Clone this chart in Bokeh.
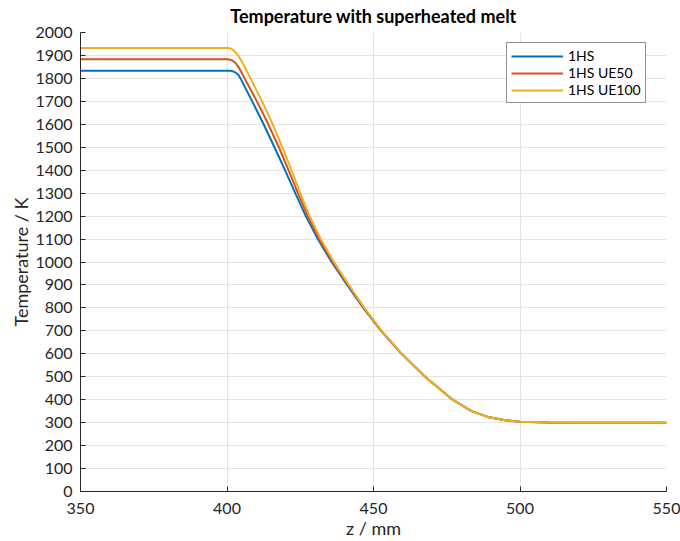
from bokeh.plotting import figure
from bokeh.models import Range1d, SingleIntervalTicker, Legend, LegendItem
from bokeh.embed import file_html
from bokeh.resources import INLINE

# Axial position z / mm and temperature / K for each case
z_1hs = [350, 398, 401, 402, 403, 404, 404.6, 406.6, 408.6, 412.5, 416.2, 419.8,
         423.3, 426.9, 431.0, 435.7, 441.0, 446.5, 452.6, 459.6, 467.6, 477.0,
         483.5, 489, 495, 500, 510, 520, 550]
t_1hs = [1833, 1833, 1833, 1831, 1825, 1814, 1800, 1750, 1700, 1600, 1500, 1400,
         1300, 1200, 1100, 1000, 900, 800, 700, 600, 500, 400,
         350, 325, 310, 304, 301, 300, 300]

z_ue50 = [350, 399, 400, 401, 402, 403, 404, 405, 406.0, 410.2, 414.1, 417.7,
          421.0, 424.2, 427.6, 431.5, 436.1, 441.3, 446.7, 452.7, 459.6, 467.6,
          477.0, 483.5, 489, 495, 500, 510, 520, 550]
t_ue50 = [1883, 1883, 1883, 1882, 1877, 1866, 1848, 1825, 1800, 1700, 1600, 1500,
          1400, 1300, 1200, 1100, 1000, 900, 800, 700, 600, 500,
          400, 350, 325, 310, 304, 301, 300, 300]

z_ue100 = [350, 399, 400, 401, 402, 403, 404, 405, 406, 407, 408.0, 412.0, 415.6,
           418.9, 422.0, 425.0, 428.2, 432.0, 436.5, 441.6, 446.9, 452.8, 459.7,
           467.6, 477.0, 483.5, 489, 495, 500, 510, 520, 550]
t_ue100 = [1933, 1933, 1933, 1931, 1925, 1913, 1896, 1875, 1851, 1826, 1800, 1700, 1600,
           1500, 1400, 1300, 1200, 1100, 1000, 900, 800, 700, 600,
           500, 400, 350, 325, 310, 304, 301, 300, 300]

series_names = ["1HS", "1HS UE50", "1HS UE100"]
series_colors = ["#0072BD", "#D95319", "#EDB120"]

FONT = "Lato"
INK = "#262626"

p = figure(width=680, height=541, output_backend="svg", toolbar_location=None,
           x_range=Range1d(350, 550), y_range=Range1d(0, 2000),
           min_border_left=80, min_border_right=14, min_border_top=30,
           min_border_bottom=49, outline_line_color=None,
           title="Temperature with superheated melt")

p.title.align = "center"
p.title.vertical_align = "top"
p.title.text_font = FONT
p.title.text_font_size = "18px"
p.title.text_font_style = "bold"
p.title.text_color = "#000000"
p.title.offset = 0
p.title.standoff = 8

p.xaxis.ticker = SingleIntervalTicker(interval=50)
p.yaxis.ticker = SingleIntervalTicker(interval=100)
p.xaxis.axis_label = "z / mm"
p.yaxis.axis_label = "Temperature / K"

for ax in (p.xaxis, p.yaxis):
    ax.axis_line_color = INK
    ax.axis_line_width = 1
    ax.major_tick_line_color = INK
    ax.major_tick_in = 5
    ax.major_tick_out = 0
    ax.minor_tick_line_color = None
    ax.major_label_text_font = FONT
    ax.major_label_text_font_size = "16px"
    ax.major_label_text_color = INK
    ax.axis_label_text_font = FONT
    ax.axis_label_text_font_size = "18px"
    ax.axis_label_text_font_style = "normal"
    ax.axis_label_text_color = INK

p.xaxis.major_label_standoff = 7
p.xaxis.axis_label_standoff = 0
p.yaxis.major_label_standoff = 4
p.yaxis.axis_label_standoff = 0

p.xgrid.grid_line_color = "#e3e3e3"
p.ygrid.grid_line_color = "#e3e3e3"
p.xgrid.grid_line_width = 1
p.ygrid.grid_line_width = 1

r1 = p.line(z_1hs, t_1hs, line_color=series_colors[0], line_width=2)
r2 = p.line(z_ue50, t_ue50, line_color=series_colors[1], line_width=2)
r3 = p.line(z_ue100, t_ue100, line_color=series_colors[2], line_width=2)

legend = Legend(items=[LegendItem(label=n, renderers=[r])
                       for n, r in zip(series_names, [r1, r2, r3])],
                location=(426, 388))
legend.label_text_font = FONT
legend.label_text_font_size = "14px"
legend.label_text_color = "#000000"
legend.border_line_color = INK
legend.border_line_width = 1
legend.background_fill_color = "white"
legend.background_fill_alpha = 1
legend.glyph_width = 52
legend.glyph_height = 16
legend.label_height = 16
legend.label_standoff = 5
legend.spacing = 0
legend.padding = 4
legend.margin = 0
p.add_layout(legend, "center")

open("out.html", "w").write(file_html(p, INLINE))
